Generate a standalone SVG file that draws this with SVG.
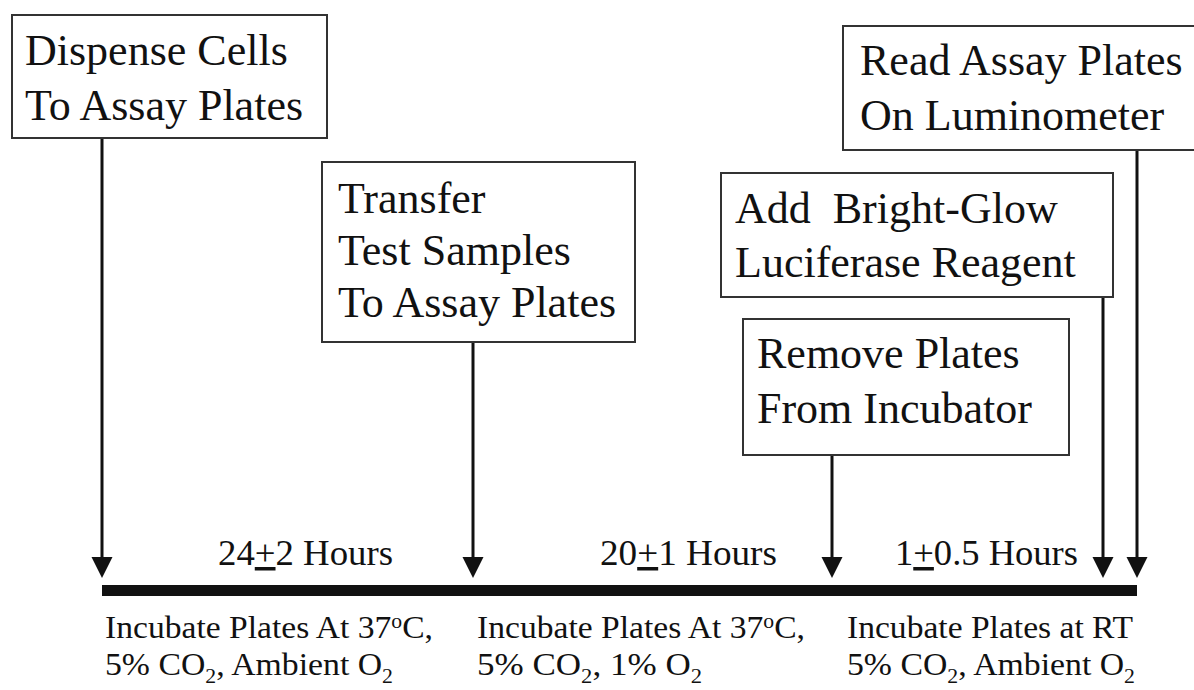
<svg xmlns="http://www.w3.org/2000/svg" width="1194" height="690" viewBox="0 0 1194 690">
  <defs>
    <marker id="ah" markerUnits="userSpaceOnUse" markerWidth="22" markerHeight="22" refX="13" refY="10.5" orient="auto">
      <path d="M0,0 L21,10.5 L0,21 Z" fill="#111"/>
    </marker>
  </defs>
  <style>
    .box { fill: #fff; stroke: #333; stroke-width: 2; }
    .bt { font-family: "Liberation Serif", "Times New Roman", serif; font-size: 44px; fill: #111; white-space: pre; }
    .hr { font-family: "Liberation Serif", "Times New Roman", serif; font-size: 35px; fill: #111; }
    .ct { font-family: "Liberation Serif", "Times New Roman", serif; font-size: 31px; fill: #111; }
    .conn { stroke: #111; stroke-width: 3; fill: none; marker-end: url(#ah); }
    .pm { text-decoration: underline; }
  </style>
  <rect width="1194" height="690" fill="#fff"/>

  <g id="connectors">
    <line class="conn" x1="102" y1="138" x2="102" y2="570"/>
    <line class="conn" x1="473" y1="342" x2="473" y2="570"/>
    <line class="conn" x1="832" y1="455" x2="832" y2="570"/>
    <line class="conn" x1="1103" y1="297" x2="1103" y2="570"/>
    <line class="conn" x1="1137" y1="150" x2="1137" y2="570"/>
  </g>

  <g id="timeline">
    <rect x="102" y="585" width="1035" height="11" fill="#111"/>
  </g>

  <g id="node-dispense">
    <rect class="box" x="12" y="15" width="315" height="123"/>
    <text class="bt" x="25" y="65">Dispense Cells</text>
    <text class="bt" x="25" y="120">To Assay Plates</text>
  </g>

  <g id="node-transfer">
    <rect class="box" x="322" y="162" width="313" height="180"/>
    <text class="bt" x="338" y="213">Transfer</text>
    <text class="bt" x="338" y="265">Test Samples</text>
    <text class="bt" x="338" y="317">To Assay Plates</text>
  </g>

  <g id="node-add">
    <rect class="box" x="721" y="173" width="392" height="124"/>
    <text class="bt" x="735" y="223" xml:space="preserve">Add  Bright-Glow</text>
    <text class="bt" x="735" y="277">Luciferase Reagent</text>
  </g>

  <g id="node-remove">
    <rect class="box" x="743" y="319" width="326" height="136"/>
    <text class="bt" x="757" y="368">Remove Plates</text>
    <text class="bt" x="757" y="423">From Incubator</text>
  </g>

  <g id="node-read">
    <rect class="box" x="843" y="26" width="360" height="124"/>
    <text class="bt" x="860" y="75">Read Assay Plates</text>
    <text class="bt" x="860" y="130">On Luminometer</text>
  </g>

  <g id="durations">
    <text class="hr" x="218" y="565" textLength="175" lengthAdjust="spacingAndGlyphs">24<tspan class="pm">+</tspan>2 Hours</text>
    <text class="hr" x="600" y="565" textLength="177" lengthAdjust="spacingAndGlyphs">20<tspan class="pm">+</tspan>1 Hours</text>
    <text class="hr" x="895" y="565" textLength="183" lengthAdjust="spacingAndGlyphs">1<tspan class="pm">+</tspan>0.5 Hours</text>
  </g>

  <g id="conditions">
    <text class="ct" x="105" y="638" textLength="328" lengthAdjust="spacingAndGlyphs">Incubate Plates At 37<tspan font-size="20" dy="-10">o</tspan><tspan dy="10">C,</tspan></text>
    <text class="ct" x="105" y="675" textLength="288" lengthAdjust="spacingAndGlyphs">5% CO<tspan font-size="20" dy="8">2</tspan><tspan dy="-8">, Ambient O</tspan><tspan font-size="20" dy="8">2</tspan></text>

    <text class="ct" x="477" y="638" textLength="328" lengthAdjust="spacingAndGlyphs">Incubate Plates At 37<tspan font-size="20" dy="-10">o</tspan><tspan dy="10">C,</tspan></text>
    <text class="ct" x="477" y="675" textLength="225" lengthAdjust="spacingAndGlyphs">5% CO<tspan font-size="20" dy="8">2</tspan><tspan dy="-8">, 1% O</tspan><tspan font-size="20" dy="8">2</tspan></text>

    <text class="ct" x="847" y="638" textLength="286" lengthAdjust="spacingAndGlyphs">Incubate Plates at RT</text>
    <text class="ct" x="847" y="675" textLength="288" lengthAdjust="spacingAndGlyphs">5% CO<tspan font-size="20" dy="8">2</tspan><tspan dy="-8">, Ambient O</tspan><tspan font-size="20" dy="8">2</tspan></text>
  </g>
</svg>
